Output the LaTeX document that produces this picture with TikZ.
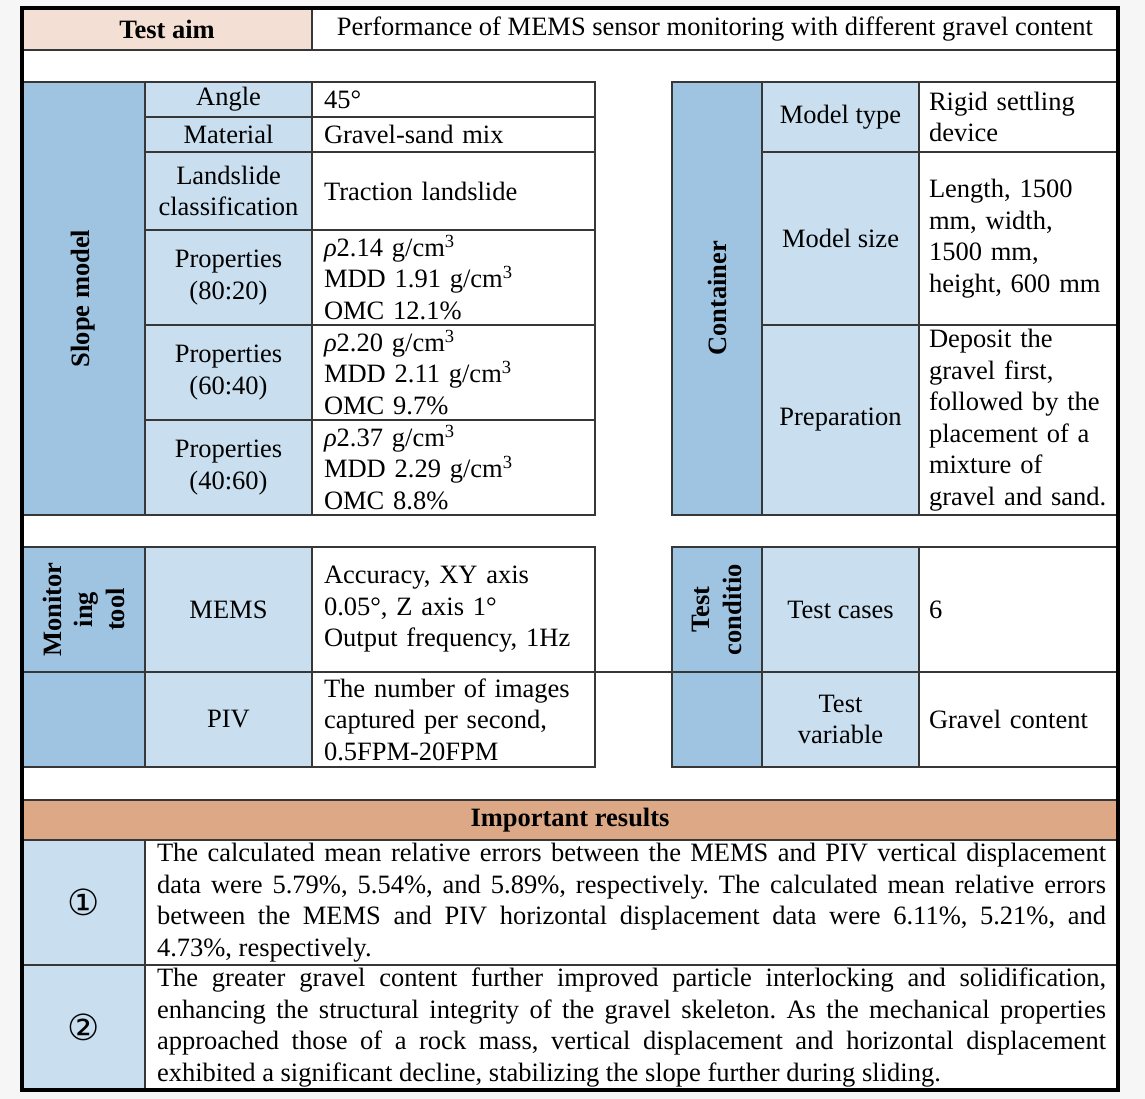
\documentclass[tikz,border=0pt]{standalone}
\usepackage{fontspec}
\setmainfont{Liberation Serif}
\newfontfamily\circfont{DejaVu Sans}
\definecolor{darkblue}{RGB}{158,196,226}
\definecolor{lightblue}{RGB}{201,222,238}
\definecolor{peach}{RGB}{243,223,211}
\definecolor{resorange}{RGB}{221,168,134}
\definecolor{rule}{RGB}{55,55,55}
\frenchspacing

\begin{document}
\begin{tikzpicture}[x=1pt,y=-1pt,font=\fontsize{26.5}{31.5}\selectfont]
\tikzstyle{cell}=[draw=rule,line width=1.4pt,inner sep=0pt,outer sep=0pt,align=center]
\tikzstyle{head}=[cell,fill=darkblue,font=\fontsize{26.5}{31.5}\selectfont\bfseries,rotate=90]
\tikzstyle{lab}=[cell,fill=lightblue]
\tikzstyle{valL}=[cell,align=left,inner xsep=12pt,text width=259pt]
\tikzstyle{valR}=[cell,align=left,inner xsep=10pt,text width=179pt]
\tikzstyle{res}=[cell,align=justify,inner xsep=12pt,text width=949pt]
\useasboundingbox (0,0) rectangle (1145,1099);
\fill[gray!7] (0,0) rectangle (1145,1099);
\fill[white] (22,8) rectangle (1118,1090);
% test aim
\node[cell,fill=peach,minimum width=290pt,minimum height=42pt,font=\fontsize{26.5}{31.5}\selectfont\bfseries] (aim) at (167,29) {Test aim};
\node[cell,minimum width=806pt,minimum height=42pt] (aimV) at (715,29) {Performance of MEMS sensor monitoring with different gravel content};
% slope model
\node[head,minimum width=433pt,minimum height=123pt] (slope) at (83.5,298.5) {Slope model};
\node[lab,minimum width=167pt,minimum height=35pt] (angL) at (228.5,99.5) {Angle};
\node[valL,minimum height=35pt] (angV) at (453.5,99.5) {45°};
\node[lab,minimum width=167pt,minimum height=35pt] (matL) at (228.5,134.5) {Material};
\node[valL,minimum height=35pt] (matV) at (453.5,134.5) {Gravel-sand mix};
\node[lab,minimum width=167pt,minimum height=78pt] (landL) at (228.5,191) {Landslide\\classification};
\node[valL,minimum height=78pt] (landV) at (453.5,191) {Traction landslide};
\node[lab,minimum width=167pt,minimum height=95pt] (p80L) at (228.5,277.5) {Properties\\(80:20)};
\node[valL,minimum height=95pt] (p80V) at (453.5,277.5) {\textit{ρ}2.14 g/cm\textsuperscript{3}\\MDD 1.91 g/cm\textsuperscript{3}\\OMC 12.1\%};
\node[lab,minimum width=167pt,minimum height=95pt] (p60L) at (228.5,372.5) {Properties\\(60:40)};
\node[valL,minimum height=95pt] (p60V) at (453.5,372.5) {\textit{ρ}2.20 g/cm\textsuperscript{3}\\MDD 2.11 g/cm\textsuperscript{3}\\OMC 9.7\%};
\node[lab,minimum width=167pt,minimum height=95pt] (p40L) at (228.5,467.5) {Properties\\(40:60)};
\node[valL,minimum height=95pt] (p40V) at (453.5,467.5) {\textit{ρ}2.37 g/cm\textsuperscript{3}\\MDD 2.29 g/cm\textsuperscript{3}\\OMC 8.8\%};
% container
\node[head,minimum width=433pt,minimum height=90pt] (cont) at (717,298.5) {Container};
\node[lab,minimum width=157pt,minimum height=70pt] (typeL) at (840.5,117) {Model type};
\node[valR,minimum height=70pt] (typeV) at (1018.5,117) {Rigid settling\\device};
\node[lab,minimum width=157pt,minimum height=173pt] (sizeL) at (840.5,238.5) {Model size};
\node[valR,minimum height=173pt] (sizeV) at (1018.5,238.5) {Length, 1500\\mm, width,\\1500 mm,\\height, 600 mm};
\node[lab,minimum width=157pt,minimum height=190pt] (prepL) at (840.5,420) {Preparation};
\node[valR,minimum height=190pt] (prepV) at (1018.5,420) {Deposit the\\gravel first,\\followed by the\\placement of a\\mixture of\\gravel and sand.};
% monitoring tool
\node[head,minimum width=125pt,minimum height=123pt] (mon) at (83.5,609.5) {Monitor\\ing\\tool};
\node[cell,fill=darkblue,minimum width=123pt,minimum height=95pt] (monB) at (83.5,719.5) {};
\node[lab,minimum width=167pt,minimum height=125pt] (memsL) at (228.5,609.5) {MEMS};
\node[valL,minimum height=125pt] (memsV) at (453.5,609.5) {Accuracy, XY axis\\0.05°, Z axis 1°\\Output frequency, 1Hz};
\node[lab,minimum width=167pt,minimum height=95pt] (pivL) at (228.5,719.5) {PIV};
\node[valL,minimum height=95pt] (pivV) at (453.5,719.5) {The number of images\\captured per second,\\0.5FPM-20FPM};
% test condition
\node[head,minimum width=125pt,minimum height=90pt] (cond) at (717,609.5) {Test\\conditio};
\node[cell,fill=darkblue,minimum width=90pt,minimum height=95pt] (condB) at (717,719.5) {};
\node[lab,minimum width=157pt,minimum height=125pt] (caseL) at (840.5,609.5) {Test cases};
\node[valR,minimum height=125pt] (caseV) at (1018.5,609.5) {6};
\node[lab,minimum width=157pt,minimum height=95pt] (varL) at (840.5,719.5) {Test\\variable};
\node[valR,minimum height=95pt] (varV) at (1018.5,719.5) {Gravel content};
\draw[rule,line width=1.4pt] (memsV.south east) -- (condB.north west);
% results
\node[cell,fill=resorange,minimum width=1096pt,minimum height=40pt,font=\fontsize{26.5}{31.5}\selectfont\bfseries] (resH) at (570,820) {Important results};
\node[lab,minimum width=123pt,minimum height=125pt] (r1N) at (83.5,902.5) {\circfont\fontsize{36}{36}\selectfont ①};
\node[res,minimum height=125pt] (r1T) at (631.5,902.5) {The calculated mean relative errors between the MEMS and PIV vertical displacement\linebreak data were 5.79\%, 5.54\%, and 5.89\%, respectively. The calculated mean relative errors\linebreak between the MEMS and PIV horizontal displacement data were 6.11\%, 5.21\%, and\linebreak 4.73\%, respectively.};
\node[lab,minimum width=123pt,minimum height=125pt] (r2N) at (83.5,1027.5) {\circfont\fontsize{36}{36}\selectfont ②};
\node[res,minimum height=125pt] (r2T) at (631.5,1027.5) {The greater gravel content further improved particle interlocking and solidification,\linebreak enhancing the structural integrity of the gravel skeleton. As the mechanical properties\linebreak approached those of a rock mass, vertical displacement and horizontal displacement\linebreak exhibited a significant decline, stabilizing the slope further during sliding.};
% frame
\draw[black,line width=3.5pt] (22,8) rectangle (1118,1090);
\end{tikzpicture}
\end{document}
